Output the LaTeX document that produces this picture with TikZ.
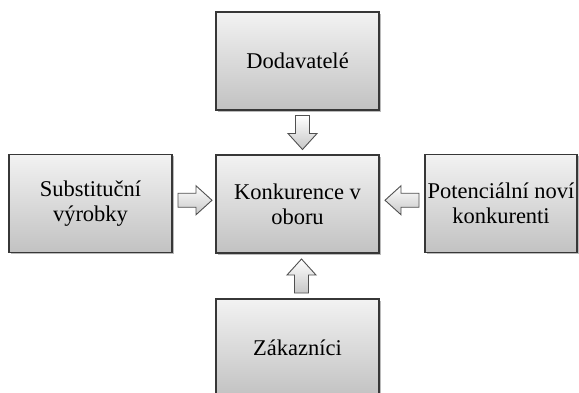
\documentclass[tikz,border=0pt]{standalone}
\usepackage{fontspec}
\setmainfont{Liberation Serif}
\usetikzlibrary{calc,shadows}

\definecolor{boxtop}{RGB}{242,242,242}
\definecolor{boxbottom}{RGB}{194,194,194}
\definecolor{boxline}{RGB}{55,55,55}
\definecolor{arrowline}{RGB}{80,80,80}

\tikzset{
  forcebox/.style={
    draw=boxline, line width=1.5pt,
    top color=boxtop, bottom color=boxbottom,
    minimum width=163pt, minimum height=98pt,
    align=center, inner sep=2pt,
    font=\fontsize{22.5}{25}\selectfont,
    drop shadow={shadow xshift=1.6pt, shadow yshift=-1.6pt, opacity=0.45, fill=black!60}
  },
  blockarrow/.style={
    draw=arrowline, line width=0.9pt, line join=miter,
    top color=white, bottom color=black!22
  }
}

% hollow block arrow pointing along +x, centred on the current origin
\newcommand{\blockarrowpath}{%
  (-17,-7) -- (1,-7) -- (1,-14.5) -- (17,0) -- (1,14.5) -- (1,7) -- (-17,7) -- cycle}

\begin{document}
\begin{tikzpicture}[x=1pt,y=1pt]
  \useasboundingbox (0,0) rectangle (579,392);
  \begin{scope}
    \clip (0,0) rectangle (579,392);

    \node[forcebox] (supp) at (297.5,331) {Dodavatelé};
    \node[forcebox] (rivalry) at (297.5,188) {Konkurence v\\oboru};
    \node[forcebox] (subst) at (90.5,188.5) {Substituční\\výrobky};
    \node[forcebox, minimum width=152pt] (entrants) at (501,188.5) {Potenciální noví\\konkurenti};
    \node[forcebox] (cust) at (297.5,44) {Zákazníci};

    % supplier pressure, pointing down
    \draw[blockarrow, shift={($(supp.south)!0.5!(rivalry.north)+(5,0)$)}, rotate=-90] \blockarrowpath;
    % substitutes, pointing right
    \draw[blockarrow, shift={($(subst.east)!0.5!(rivalry.west)+(1,3.5)$)}] \blockarrowpath;
    % new entrants, pointing left
    \draw[blockarrow, shift={($(entrants.west)!0.5!(rivalry.east)+(0,3.5)$)}, rotate=180] \blockarrowpath;
    % customers, pointing up
    \draw[blockarrow, shift={($(cust.north)!0.5!(rivalry.south)+(4,0)$)}, rotate=90] \blockarrowpath;
  \end{scope}
\end{tikzpicture}
\end{document}
